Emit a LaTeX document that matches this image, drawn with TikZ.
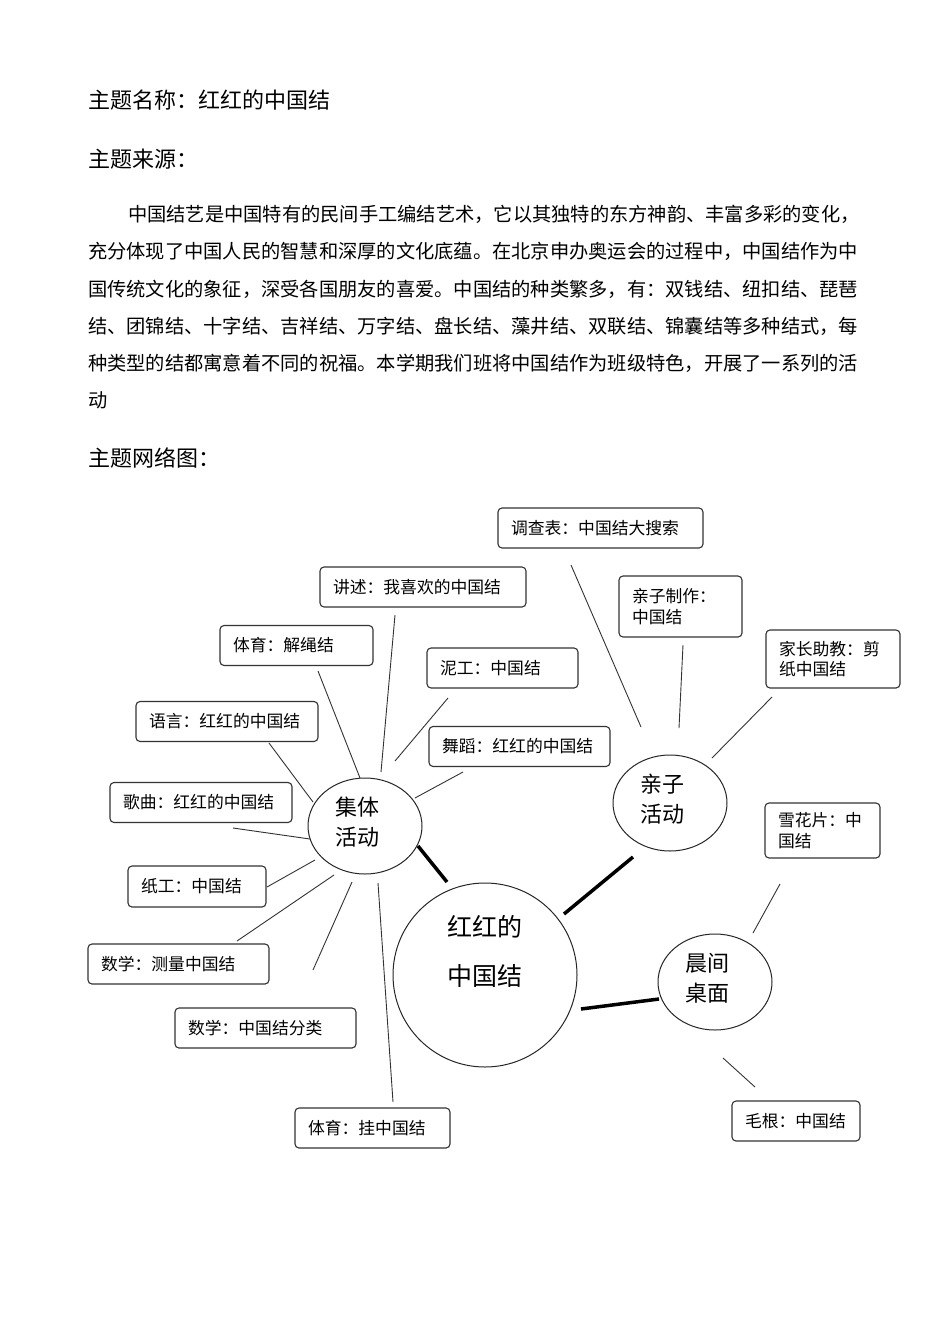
\documentclass[tikz,border=0pt]{standalone}
\usepackage{fontspec}
\setmainfont{Noto Sans CJK SC}
\usetikzlibrary{shapes.geometric}

\newcommand\headfont{\fontsize{22}{26}\selectfont}
\newcommand\bodyfont{\fontsize{19.25}{24}\selectfont\XeTeXlinebreaklocale "zh"\XeTeXlinebreakskip=0pt plus 2pt\relax}
\newcommand\topicfont{\fontsize{16.8}{20.5}\selectfont}
\newcommand\hubfont{\fontsize{22}{30}\selectfont}
\newcommand\corefont{\fontsize{25}{49}\selectfont}

\begin{document}
\begin{tikzpicture}[
        x=1pt, y=-1pt,
        head/.style={anchor=west, inner sep=0pt, font=\headfont},
        body/.style={anchor=west, inner sep=0pt, font=\bodyfont},
        topic/.style={
            draw=black!80,
            line width=1.1pt,
            rounded corners=4pt,
            align=left,
            inner xsep=13pt,
            inner ysep=0pt,
            minimum height=40pt,
            text width=#1,
            font=\topicfont
        },
        hub/.style={
            draw=black!85,
            line width=1pt,
            ellipse,
            inner sep=0pt,
            minimum width=114pt,
            minimum height=96pt
        },
        hubtext/.style={align=center, font=\hubfont, inner sep=0pt, xshift=-8pt, yshift=4pt},
        core/.style={
            draw=black!85,
            line width=1pt,
            circle,
            inner sep=0pt,
            minimum size=184pt,
            align=center,
            font=\corefont
        },
        spoke/.style={line width=0.9pt, black!80},
        trunk/.style={line width=3.5pt, black}
    ]
    \fill[white] (0,0) rectangle (950,1344);
    \useasboundingbox (0,0) rectangle (950,1344);

    % heading and text
    \node[head] (title) at (88,100) {主题名称：红红的中国结};
    \node[head] (source) at (88,159) {主题来源：};
    \node[body] (l1) at (128,214) {\makebox[730pt][s]{中国结艺是中国特有的民间手工编结艺术，它以其独特的东方神韵、丰富多彩的变化，}};
    \node[body] (l2) at (88,251) {\makebox[770pt][s]{充分体现了中国人民的智慧和深厚的文化底蕴。在北京申办奥运会的过程中，中国结作为中}};
    \node[body] (l3) at (88,289) {\makebox[770pt][s]{国传统文化的象征，深受各国朋友的喜爱。中国结的种类繁多，有：双钱结、纽扣结、琵琶}};
    \node[body] (l4) at (88,326) {\makebox[770pt][s]{结、团锦结、十字结、吉祥结、万字结、盘长结、藻井结、双联结、锦囊结等多种结式，每}};
    \node[body] (l5) at (88,363) {\makebox[770pt][s]{种类型的结都寓意着不同的祝福。本学期我们班将中国结作为班级特色，开展了一系列的活}};
    \node[body] (l6) at (88,400) {动};
    \node[head] (net) at (88,458) {主题网络图：};

    % circles
    \node[core] (core) at (485,975) {红红的\\中国结\\~};
    \node[hub, label={[hubtext]center:集体\\活动}] (jiti) at (365,826) {};
    \node[hub, label={[hubtext]center:亲子\\活动}] (qinzi) at (670,803) {};
    \node[hub, label={[hubtext]center:晨间\\桌面}] (chenjian) at (715,982) {};

    % boxes
    \node[topic=179pt] (dcb) at (600.5,528) {调查表：中国结大搜索};
    \node[topic=180pt] (js) at (423,587) {讲述：我喜欢的中国结};
    \node[topic=127pt] (jsj) at (296.5,645.5) {体育：解绳结};
    \node[topic=125pt] (ng) at (502.5,668) {泥工：中国结};
    \node[topic=156pt] (yy) at (227,721.5) {语言：红红的中国结};
    \node[topic=155pt] (wd) at (519.5,746.5) {舞蹈：红红的中国结};
    \node[topic=156pt] (gq) at (201,802.5) {歌曲：红红的中国结};
    \node[topic=97pt, minimum height=61pt] (qzzz) at (680.5,606.5) {亲子制作：\\中国结};
    \node[topic=108pt, minimum height=58pt] (jzzj) at (833,659) {家长助教：剪\\纸中国结};
    \node[topic=89pt, minimum height=55pt] (xhp) at (822.5,830.5) {雪花片：中\\国结};
    \node[topic=112pt, minimum height=41pt] (zg) at (197,886.5) {纸工：中国结};
    \node[topic=155pt] (sxcl) at (178.5,964) {数学：测量中国结};
    \node[topic=155pt] (sxfl) at (265.5,1028) {数学：中国结分类};
    \node[topic=129pt] (tygj) at (372.5,1128) {体育：挂中国结};
    \node[topic=102pt] (mg) at (796,1121) {毛根：中国结};

    % thin connectors
    \foreach \b/\bx/\by/\ex/\ey in {js/-28/28/16/-54, jsj/21.5/25.5/-5/-48,
            ng/-54.5/30/30/-65, yy/42/21.5/-52/-24, wd/-56.5/25.5/50/-28,
            gq/32/25.5/-55/13, zg/70/0.5/-50/34, sxcl/58.5/-23/-31/49,
            sxfl/47.5/-58/-13/56, tygj/20.5/-26/13/57}
        \draw[spoke] ([shift={(\bx,\by)}]\b.center) -- ([shift={(\ex,\ey)}]jiti.center);
    \foreach \b/\bx/\by/\ex/\ey in {dcb/-29.5/37/-29/-76, qzzz/2.5/38.5/9/-75,
            jzzj/-61/38/42/-45}
        \draw[spoke] ([shift={(\bx,\by)}]\b.center) -- ([shift={(\ex,\ey)}]qinzi.center);
    \foreach \b/\bx/\by/\ex/\ey in {xhp/-42.5/53.5/38/-49, mg/-41/-34/8/76}
        \draw[spoke] ([shift={(\bx,\by)}]\b.center) -- ([shift={(\ex,\ey)}]chenjian.center);

    % thick connectors
    \draw[trunk] ([shift={(-38,-93)}]core.center) -- ([shift={(53,20)}]jiti.center);
    \draw[trunk] ([shift={(79,-61)}]core.center) -- ([shift={(-37,54)}]qinzi.center);
    \draw[trunk] ([shift={(96,34)}]core.center) -- ([shift={(-56,17)}]chenjian.center);
\end{tikzpicture}
\end{document}
